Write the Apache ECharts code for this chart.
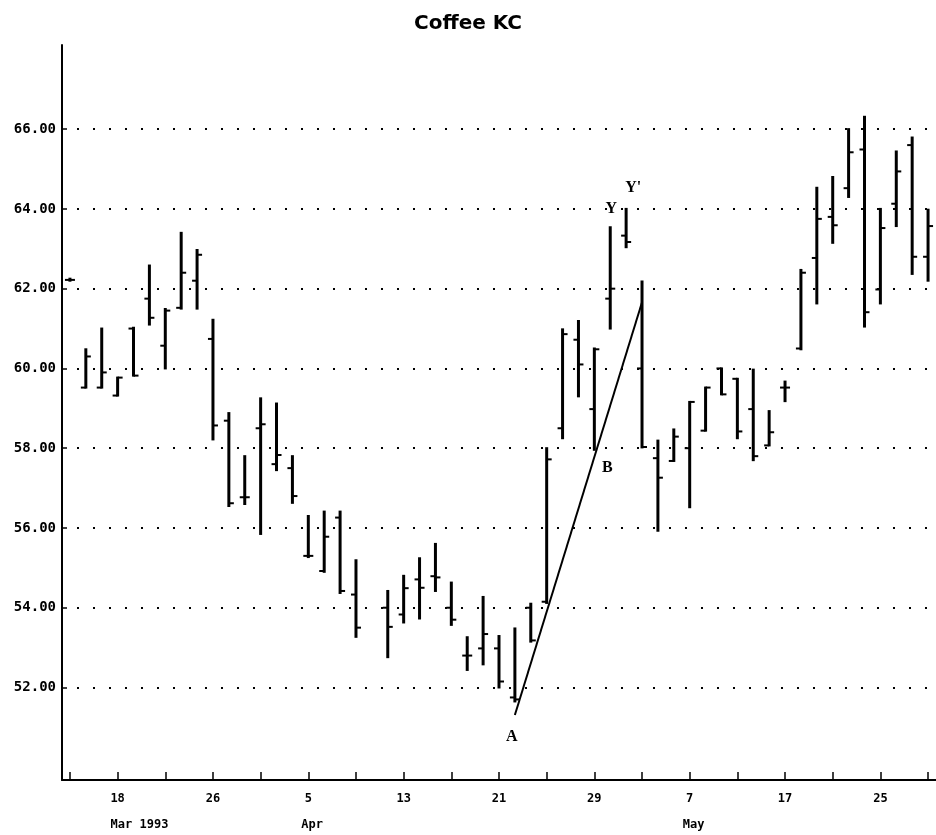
<!DOCTYPE html>
<html>
<head>
<meta charset="utf-8">
<script src="https://cdn.jsdelivr.net/npm/echarts@6/dist/echarts.min.js"></script>
<style>
  html, body { margin: 0; padding: 0; background: #fff; }
  #chart { width: 936px; height: 835px; }
</style>
</head>
<body>
<div id="chart"></div>
<script>
// Trading-day categories (weekdays, Mar 15 - May 28 1993; Apr 9 is a holiday with no bar)
var dates = [
  'Mar 15','Mar 16','Mar 17','Mar 18','Mar 19',
  'Mar 22','Mar 23','Mar 24','Mar 25','Mar 26',
  'Mar 29','Mar 30','Mar 31','Apr 1','Apr 2',
  'Apr 5','Apr 6','Apr 7','Apr 8','Apr 9',
  'Apr 12','Apr 13','Apr 14','Apr 15','Apr 16',
  'Apr 19','Apr 20','Apr 21','Apr 22','Apr 23',
  'Apr 26','Apr 27','Apr 28','Apr 29','Apr 30',
  'May 3','May 4','May 5','May 6','May 7',
  'May 10','May 11','May 12','May 13','May 14',
  'May 17','May 18','May 19','May 20','May 21',
  'May 24','May 25','May 26','May 27','May 28'
];
var opens = [
  62.22, 59.52, 59.52, 59.32, 61.00,
  61.75, 60.57, 61.52, 62.20, 60.74,
  58.69, 56.77, 58.50, 57.60, 57.50,
  55.30, 54.92, 56.26, 54.33, null,
  54.00, 53.83, 54.71, 54.79, 54.00,
  52.80, 52.98, 52.98, 51.75, 54.00,
  54.15, 58.50, 60.72, 58.98, 61.75,
  63.33, 60.00, 57.75, 57.68, 58.00,
  58.44, 60.00, 59.74, 58.98, 58.07,
  59.52, 60.50, 62.77, 63.80, 64.52,
  65.49, 61.98, 64.13, 65.60, 62.80
];
var highs = [
  62.25, 60.48, 61.00, 59.77, 61.02,
  62.58, 61.49, 63.40, 62.97, 61.22,
  58.88, 57.80, 59.25, 59.12, 57.80,
  56.30, 56.41, 56.41, 55.19, null,
  54.42, 54.80, 55.24, 55.60, 54.63,
  53.26, 54.27, 53.29, 53.48, 54.10,
  58.00, 60.98, 61.19, 60.50, 63.54,
  64.00, 62.18, 58.19, 58.47, 59.16,
  59.52, 60.00, 59.74, 59.97, 58.93,
  59.67, 62.47, 64.53, 64.80, 66.00,
  66.31, 64.00, 65.44, 65.79, 63.98
];
var lows = [
  62.20, 59.52, 59.52, 59.32, 59.82,
  61.10, 60.00, 61.50, 61.50, 58.22,
  56.55, 56.60, 55.85, 57.45, 56.63,
  55.27, 54.90, 54.37, 53.27, null,
  52.76, 53.63, 53.73, 54.42, 53.57,
  52.44, 52.58, 52.00, 51.65, 53.15,
  54.12, 58.25, 59.30, 57.96, 61.00,
  63.04, 58.02, 55.93, 57.68, 56.52,
  58.44, 59.35, 58.25, 57.70, 58.07,
  59.18, 60.48, 61.63, 63.15, 64.30,
  61.05, 61.63, 63.57, 62.37, 62.20
];
var closes = [
  62.22, 60.30, 59.90, 59.77, 59.82,
  61.27, 61.45, 62.40, 62.85, 58.57,
  56.62, 56.77, 58.60, 57.83, 56.80,
  55.30, 55.78, 54.42, 53.50, null,
  53.52, 54.49, 54.50, 54.76, 53.70,
  52.80, 53.34, 52.15, 51.70, 53.18,
  57.72, 60.86, 60.10, 60.48, 62.00,
  63.17, 58.03, 57.26, 58.29, 59.16,
  59.52, 59.35, 58.42, 57.80, 58.40,
  59.52, 62.40, 63.75, 63.59, 65.42,
  61.41, 63.52, 64.94, 62.80, 63.57
];
// Tick labels on the date axis
var dayLabelDates = ['Mar 18','Mar 26','Apr 5','Apr 13','Apr 21','Apr 29','May 7','May 17','May 25'];
var dayLabels     = ['18','26','5','13','21','29','7','17','25'];
var monthLabelDates = ['Mar 18','Apr 5','May 7'];
var monthLabels     = ['Mar 1993','Apr','May'];
var yTickValues = [52, 54, 56, 58, 60, 62, 64, 66];
// Trend line A -> Y (category index, price)
var trendX = [27.67, 36.0];
var trendY = [51.31, 61.66];
// Annotations
var annoText   = ['A', 'B', 'Y', "Y'"];
var annoDates  = ['Apr 22', 'Apr 29', 'Apr 30', 'May 3'];
var annoValues = [50.76, 57.50, 64.00, 64.52];

var ohlcData = [];
for (var i = 0; i < dates.length; i++) {
  if (highs[i] == null) continue;
  ohlcData.push([i, opens[i], highs[i], lows[i], closes[i]]);
}
var annoOffsets = [[-3, 0], [13, 0], [1, 0], [7, 0]];

var chart = echarts.init(document.getElementById('chart'));
var monoFont = '"DejaVu Sans Mono", "Liberation Mono", monospace';

chart.setOption({
  animation: false,
  backgroundColor: '#ffffff',
  title: {
    text: 'Coffee KC',
    left: 'center',
    top: 9,
    textStyle: { fontFamily: '"DejaVu Sans", sans-serif', fontWeight: 'bold', fontSize: 20, color: '#000' }
  },
  grid: { left: 62, right: -6, top: 45, bottom: 55, containLabel: false },
  xAxis: [{
    type: 'category',
    data: dates,
    boundaryGap: true,
    axisLine: { show: true, lineStyle: { color: '#000', width: 2 } },
    axisTick: {
      show: true, inside: true, length: 8, alignWithLabel: true,
      interval: function (idx) { return idx % 3 === 0; },
      lineStyle: { color: '#000', width: 1.5 }
    },
    axisLabel: {
      interval: function (idx, val) { return dayLabelDates.indexOf(val) >= 0; },
      formatter: function (val) { var k = dayLabelDates.indexOf(val); return k >= 0 ? dayLabels[k] : ''; },
      margin: 13,
      color: '#000', fontFamily: monoFont, fontWeight: 'bold', fontSize: 12
    },
    splitLine: { show: false }
  }, {
    type: 'category',
    data: dates,
    boundaryGap: true,
    position: 'bottom',
    axisLine: { show: false },
    axisTick: { show: false },
    axisLabel: {
      interval: function (idx, val) { return monthLabelDates.indexOf(val) >= 0; },
      formatter: function (val) { var k = monthLabelDates.indexOf(val); return k >= 0 ? '{m|' + monthLabels[k] + '}' : ''; },
      margin: 39,
      align: 'center',
      rich: { m: { width: 14, align: 'left', color: '#000', fontFamily: monoFont, fontWeight: 'bold', fontSize: 12 } }
    },
    splitLine: { show: false }
  }],
  yAxis: {
    type: 'value',
    min: 49.68,
    max: 68.11,
    axisLine: { show: true, lineStyle: { color: '#000', width: 2 } },
    axisTick: { show: true, inside: true, length: 5, customValues: yTickValues, lineStyle: { color: '#000', width: 1.5 } },
    axisLabel: {
      customValues: yTickValues,
      formatter: function (v) { return v.toFixed(2); },
      margin: 6,
      color: '#000', fontFamily: monoFont, fontWeight: 'bold', fontSize: 14
    },
    splitLine: { show: false }
  },
  series: [{
    type: 'custom',
    name: 'Coffee KC',
    data: ohlcData,
    encode: { x: 0, y: [1, 2, 3, 4] },
    renderItem: function (params, api) {
      var x = api.value(0);
      var ph = api.coord([x, api.value(2)]);
      var pl = api.coord([x, api.value(3)]);
      var po = api.coord([x, api.value(1)]);
      var pc = api.coord([x, api.value(4)]);
      var w = 5;
      var st = { stroke: '#000', lineWidth: 3 };
      var st2 = { stroke: '#000', lineWidth: 2 };
      return {
        type: 'group',
        children: [
          { type: 'line', shape: { x1: ph[0], y1: ph[1] - 1, x2: pl[0], y2: pl[1] + 1 }, style: st },
          { type: 'line', shape: { x1: po[0] - w, y1: po[1], x2: po[0], y2: po[1] }, style: st2 },
          { type: 'line', shape: { x1: pc[0], y1: pc[1], x2: pc[0] + w, y2: pc[1] }, style: st2 }
        ]
      };
    },
    markLine: {
      silent: true,
      symbol: ['none', 'none'],
      label: { show: false },
      lineStyle: { color: '#000', width: 2, type: [2, 14], dashOffset: 1 },
      data: yTickValues.map(function (v) { return { yAxis: v }; })
    },
    z: 3
  }, {
    type: 'line',
    name: 'Trend',
    data: trendX.map(function (x, i) { return [x, trendY[i]]; }),
    symbol: 'none',
    lineStyle: { color: '#000', width: 2 },
    z: 4,
    markPoint: {
      symbol: 'circle',
      symbolSize: 0,
      data: annoText.map(function (t, i) {
        return {
          coord: [annoDates[i], annoValues[i]],
          label: {
            show: true, formatter: t, offset: annoOffsets[i],
            color: '#000', fontFamily: '"Liberation Serif", "DejaVu Serif", serif',
            fontWeight: 'bold', fontSize: 16
          }
        };
      })
    }
  }]
});
</script>
</body>
</html>
